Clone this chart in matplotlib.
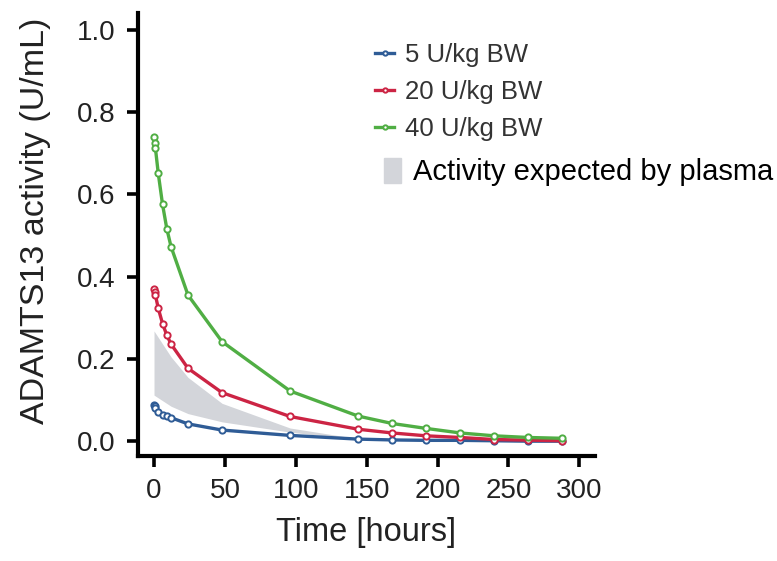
import matplotlib.pyplot as plt

plt.rcParams['font.family'] = ['Liberation Sans', 'DejaVu Sans']

# sampling times (hours)
tiempo = [0.25, 0.5, 1, 3, 6, 9, 12, 24, 48, 96, 144, 168, 192, 216, 240, 264, 288]

dosis_5 = [0.089, 0.085, 0.080, 0.070, 0.063, 0.060, 0.057, 0.042, 0.027, 0.014,
           0.005, 0.003, 0.002, 0.002, 0.001, 0.000, 0.000]
dosis_20 = [0.369, 0.362, 0.355, 0.323, 0.286, 0.258, 0.236, 0.177, 0.118, 0.060,
            0.029, 0.020, 0.013, 0.009, 0.004, 0.0025, 0.001]
dosis_40 = [0.740, 0.726, 0.712, 0.651, 0.576, 0.517, 0.473, 0.355, 0.242, 0.122,
            0.061, 0.043, 0.031, 0.020, 0.013, 0.009, 0.007]

# expected activity by plasma (band)
tiempo_plasma = [0, 12, 24, 48, 96, 144]
plasma_sup = [0.268, 0.205, 0.155, 0.092, 0.032, 0.006]
plasma_inf = [0.112, 0.085, 0.067, 0.047, 0.022, 0.004]

series = [
    ("5 U/kg BW", dosis_5, "#2f5c96"),
    ("20 U/kg BW", dosis_20, "#cc2444"),
    ("40 U/kg BW", dosis_40, "#50ae44"),
]

fig = plt.figure(figsize=(7.77, 5.61), dpi=100)
ax = fig.add_axes([0.1776, 0.1872, 0.588, 0.7896])

ax.fill_between(tiempo_plasma, plasma_inf, plasma_sup, color="#d3d5da", lw=0, zorder=1)

for nombre, valores, color in series:
    ax.plot(tiempo, valores, color=color, lw=2.4, marker='o', ms=4.5,
            mfc='white', mec=color, mew=1.4, label=nombre, zorder=3)

ax.set_xlim(-11.3, 311)
ax.set_ylim(-0.036, 1.041)
ax.set_xticks([0, 50, 100, 150, 200, 250, 300])
ax.set_yticks([0.0, 0.2, 0.4, 0.6, 0.8, 1.0])
ax.set_yticklabels(["0.0", "0.2", "0.4", "0.6", "0.8", "1.0"])

for lado in ["top", "right"]:
    ax.spines[lado].set_visible(False)
for lado in ["left", "bottom"]:
    ax.spines[lado].set_linewidth(3)
ax.tick_params(width=2.6, length=8, labelsize=20, colors="#222222", pad=8)
ax.tick_params(color="black")

ax.set_xlabel("Time [hours]", fontsize=23.5, color="#222222", labelpad=9)
ax.set_ylabel("ADAMTS13 activity (U/mL)", fontsize=24.5, color="#222222")
ax.yaxis.set_label_coords(-0.19, 0.53)

leg = fig.legend(*ax.get_legend_handles_labels(), loc="upper left",
                 bbox_to_anchor=(375 / 777, 1 - 43 / 561), frameon=False,
                 fontsize=18.5, handlelength=0.75, handletextpad=0.4,
                 labelspacing=0.5, borderpad=0, borderaxespad=0, markerscale=0.7)
for t in leg.get_texts():
    t.set_color("#333333")

fig.patches.append(plt.Rectangle((384 / 777, 1 - 183 / 561), 17 / 777, 25 / 561,
                                 transform=fig.transFigure, color="#d3d5da"))
fig.text(413 / 777, 1 - 172 / 561, "Activity expected by plasma", fontsize=21,
         va="center", ha="left", color="black")

plt.savefig("out.png", dpi=100)
